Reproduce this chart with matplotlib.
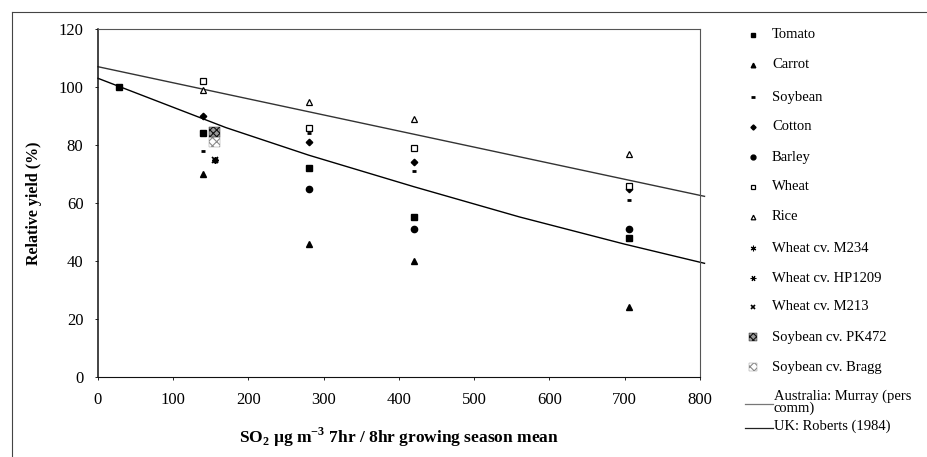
import matplotlib
matplotlib.use("Agg")
import matplotlib.pyplot as plt

plt.rcParams['font.family'] = ['Liberation Serif', 'DejaVu Serif']
plt.rcParams['mathtext.fontset'] = 'custom'
plt.rcParams['mathtext.rm'] = 'Liberation Serif:bold'
plt.rcParams['mathtext.bf'] = 'Liberation Serif:bold'
plt.rcParams['hatch.linewidth'] = 0.8

# data
tomato_x = [28, 140, 280, 420, 705]
tomato_y = [100, 84, 72, 55, 48]
carrot_x = [140, 280, 420, 705]
carrot_y = [70, 46, 40, 24]
soy_x = [140, 280, 420, 705]
soy_y = [78, 84, 71, 61]
cotton_x = [140, 280, 420, 705]
cotton_y = [90, 81, 74, 65]
barley_x = [280, 420, 705]
barley_y = [65, 51, 51]
wheat_x = [140, 280, 420, 705]
wheat_y = [102, 86, 79, 66]
rice_x = [140, 280, 420, 705]
rice_y = [99, 95, 89, 77]
m234_x, m234_y = [155], [75]
hp1209_x, hp1209_y = [155], [75]
m213_x, m213_y = [155], [75]
pk472_x, pk472_y = [155], [84.5]
bragg_x, bragg_y = [155], [81]

# fitted lines as drawn
aus_x = [0, 806]
aus_y = [107, 62.3]
uk_x = [0, 170, 280, 420, 560, 700, 806]
uk_y = [103, 86, 76.5, 65.6, 55.2, 45.8, 39.2]

xticks = [0, 100, 200, 300, 400, 500, 600, 700, 800]
yticks = [0, 20, 40, 60, 80, 100, 120]

fig = plt.figure(figsize=(9.28, 4.57), dpi=100)
ax = fig.add_axes([0.1056, 0.1751, 0.6487, 0.7614])

styles = {
    'Tomato': dict(marker='s', ms=4.3, mfc='black', mec='black'),
    'Carrot': dict(marker='^', ms=4.5, mfc='black', mec='black'),
    'Soybean': dict(marker='_', ms=3.5, mew=2, color='black'),
    'Cotton': dict(marker='D', ms=3.3, mfc='black', mec='black'),
    'Barley': dict(marker='o', ms=4.5, mfc='black', mec='black'),
    'Wheat': dict(marker='s', ms=4, mfc='white', mec='black', mew=0.9),
    'Rice': dict(marker='^', ms=4.5, mfc='white', mec='black', mew=0.9),
    'Wheat cv. M234': dict(marker=(6, 2, 0), ms=4.5, mew=0.8, color='black'),
    'Wheat cv. HP1209': dict(marker=(6, 2, 90), ms=4.5, mew=0.8, color='black'),
    'Wheat cv. M213': dict(marker='x', ms=4.5, mew=1.2, color='black'),
}
series = [
    ('Tomato', tomato_x, tomato_y),
    ('Carrot', carrot_x, carrot_y),
    ('Soybean', soy_x, soy_y),
    ('Cotton', cotton_x, cotton_y),
    ('Barley', barley_x, barley_y),
    ('Wheat', wheat_x, wheat_y),
    ('Rice', rice_x, rice_y),
    ('Wheat cv. M234', m234_x, m234_y),
    ('Wheat cv. HP1209', hp1209_x, hp1209_y),
    ('Wheat cv. M213', m213_x, m213_y),
]
for name, xs, ys in series:
    ax.plot(xs, ys, ls='none', zorder=3, **styles[name])

hatched = {
    'Soybean cv. PK472': dict(facecolor='#9a9a9a', edgecolor='#111111', hatch='xxxxx'),
    'Soybean cv. Bragg': dict(facecolor='white', edgecolor='#8a8a8a', hatch='xxxx'),
}
ax.scatter(bragg_x, bragg_y, marker='s', s=55, linewidths=0.3, zorder=3,
           **hatched['Soybean cv. Bragg'])
ax.scatter(pk472_x, pk472_y, marker='s', s=55, linewidths=0.3, zorder=3,
           **hatched['Soybean cv. PK472'])

ax.plot(aus_x, aus_y, color='#333333', lw=1.0, clip_on=False, zorder=2)
ax.plot(uk_x, uk_y, color='black', lw=1.0, clip_on=False, zorder=2)

ax.set_xlim(0, 800)
ax.set_ylim(0, 120)
ax.set_xticks(xticks)
ax.set_yticks(yticks)
ax.tick_params(length=2.5, width=0.6, labelsize=12)
ax.tick_params(axis='x', pad=8)
ax.tick_params(axis='y', pad=8)
for s in ax.spines.values():
    s.set_linewidth(0.8)
    s.set_color('#555555')
ax.spines['left'].set_color('#111111')
ax.spines['left'].set_linewidth(1.1)
ax.spines['bottom'].set_color('#111111')

ax.set_ylabel('Relative yield (%)', fontsize=11.5, fontweight='bold', labelpad=12)
ax.set_xlabel(r'SO$_{2}$ µg m$^{\mathrm{-3}}$ 7hr / 8hr growing season mean',
              fontsize=12.5, fontweight='bold', labelpad=13)

# legend and outer frame drawn in pixel space
lax = fig.add_axes([0, 0, 1, 1])
lax.set_xlim(0, 928)
lax.set_ylim(457, 0)
lax.axis('off')

rows = [35, 65, 97, 127, 157, 187, 217, 248, 278, 307]
small = {'Tomato': 3.2, 'Carrot': 3.3, 'Soybean': 2.5, 'Cotton': 2.6, 'Barley': 3.5,
         'Wheat': 3.2, 'Rice': 3.3, 'Wheat cv. M234': 4, 'Wheat cv. HP1209': 4,
         'Wheat cv. M213': 3.5}
for (name, _, _), y in zip(series, rows):
    st = dict(styles[name])
    st['ms'] = small[name]
    lax.plot([753], [y], ls='none', **st)
    lax.text(772, y, name, fontsize=10.5, va='center', ha='left')

for name, y in [('Soybean cv. PK472', 337), ('Soybean cv. Bragg', 367)]:
    lax.scatter([753], [y], marker='s', s=36, linewidths=0.3, **hatched[name])
    lax.text(772, y, name, fontsize=10.5, va='center', ha='left')

lax.plot([745, 773], [404, 404], color='#777777', lw=0.9)
lax.text(774, 390, 'Australia: Murray (pers\ncomm)', fontsize=10.5, va='top',
         ha='left', linespacing=0.78)
lax.plot([745, 773], [428, 428], color='#222222', lw=0.9)
lax.text(774, 430, 'UK: Roberts (1984)', fontsize=10.5, va='baseline', ha='left')

lax.plot([12, 926], [12, 12], color='#444444', lw=0.8)
lax.plot([12, 12], [12, 457], color='#444444', lw=0.8)

fig.savefig('out.png', dpi=100)
